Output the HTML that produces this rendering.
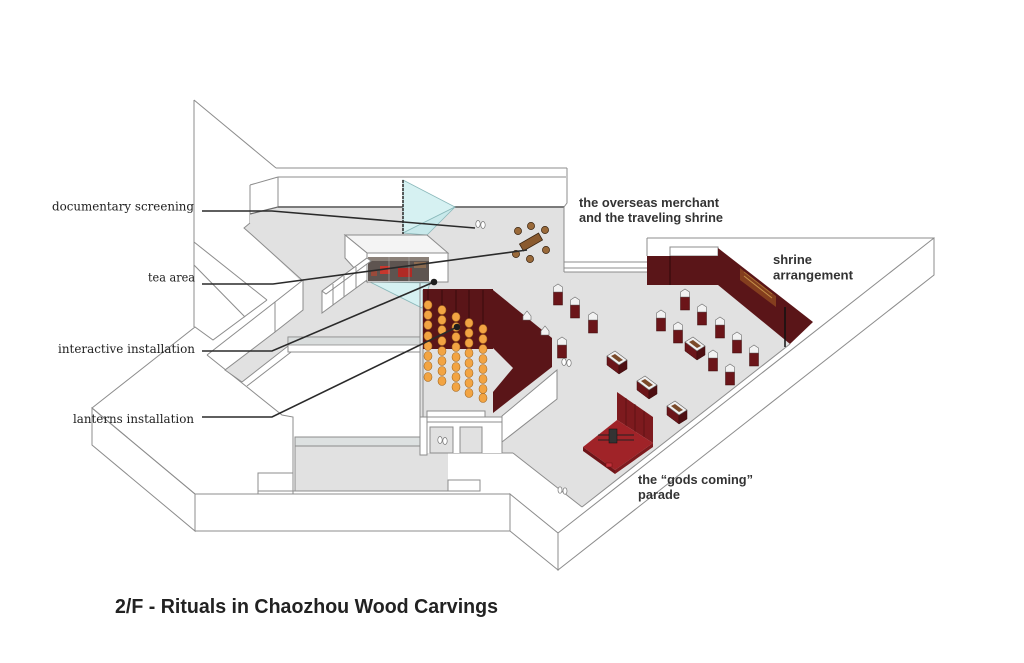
<!DOCTYPE html>
<html><head><meta charset="utf-8"><style>
html,body{margin:0;padding:0;background:#fff;}
svg{display:block;}
.o{fill:none;stroke:#8c8c8c;stroke-width:1;}
.w{fill:#fff;stroke:#8c8c8c;stroke-width:1;}
.g{fill:#e1e1e1;}
.lbl{font-family:"DejaVu Serif","Liberation Serif",serif;font-size:12.5px;fill:#1e1e1e;}
.sl{font-family:"Liberation Sans",sans-serif;font-weight:bold;font-size:13px;fill:#333;}
.ld{fill:none;stroke:#2a2a2a;stroke-width:1.6;}
.red{fill:#5a1518;}
.lan{fill:#f2a443;stroke:#a86a20;stroke-width:0.6;}
.cs{fill:#6b1519;stroke:#3a0a0a;stroke-width:0.5;}
.gl{fill:#f2f2f2;stroke:#6a6a6a;stroke-width:0.6;}
</style></head><body>
<svg width="1024" height="663" viewBox="0 0 1024 663" xmlns="http://www.w3.org/2000/svg">
<rect width="1024" height="663" fill="#fff"/>

<!-- outer slab faces -->
<polygon class="w" points="558,533 934,238 934,275 558,570"/>
<polygon class="w" points="510,494 558,533 558,570 510,531"/>
<rect class="w" x="195" y="494" width="315" height="37"/>
<polygon class="w" points="92,408 195,494 195,531 92,445"/>

<!-- left block lines -->
<polyline class="o" points="195,494 92,408 195,327 213,340 267,300"/>
<line class="o" x1="194" y1="242" x2="267" y2="300"/>
<line class="o" x1="194" y1="265" x2="245" y2="317"/>
<line class="o" x1="194" y1="100" x2="194" y2="327"/>
<line class="o" x1="194" y1="100" x2="276" y2="168"/>
<polyline class="o" points="207,355 282,415 293,417 293,494"/>
<polyline class="o" points="258,494 258,473 293,473"/>

<!-- top back wall -->
<line class="o" x1="276" y1="168" x2="567" y2="168"/>
<line class="o" x1="278" y1="177" x2="566" y2="177"/>
<polyline class="o" points="567,168 567,203 564,207"/>
<line class="o" x1="250" y1="185" x2="278" y2="177"/>
<line class="o" x1="250" y1="185" x2="250" y2="223"/>
<line class="o" x1="278" y1="177" x2="278" y2="207"/>

<!-- main floor -->
<polygon class="g" points="250,214 278,207 564,207 564,272 647,272 647,285 718,285 790,344 582,507 513,453 420,453 420,337 303,337 303,283 252,235 244,228 250,223"/>
<polyline class="o" points="250,223 244,228 252,235 303,281"/>
<line x1="278" y1="207" x2="564" y2="207" stroke="#6a6a6a" stroke-width="1.8"/>
<line x1="250" y1="214" x2="278" y2="207" stroke="#6a6a6a" stroke-width="1.2"/>
<line class="o" x1="564" y1="207" x2="564" y2="272"/>
<!-- ramp -->
<polygon class="g" points="225,370 275,332 303,310 303,337 288,345 242,382"/>
<polyline class="o" points="242,382 225,370 275,332"/>
<line class="o" x1="242" y1="382" x2="288" y2="346"/>
<line class="o" x1="247" y1="386" x2="295" y2="349"/>
<line class="o" x1="207" y1="355" x2="275" y2="302"/>
<polygon class="w" points="275,302 303,280 303,310 275,332"/>

<!-- floor edges -->
<line class="o" x1="582" y1="507" x2="790" y2="344"/>
<line class="o" x1="513" y1="453" x2="582" y2="507"/>
<line class="o" x1="448" y1="453" x2="513" y2="453"/>

<!-- lower gray area -->
<rect class="g" x="295" y="446" width="153" height="45"/>
<rect x="295" y="437" width="125" height="9" fill="#dde1e1" stroke="#8c8c8c" stroke-width="1"/>
<rect class="w" x="288" y="337" width="132" height="15"/>
<rect x="288" y="337" width="132" height="8" fill="#d9dddd" stroke="#8c8c8c" stroke-width="0.8"/>
<rect class="w" x="258" y="473" width="35" height="18"/>
<rect class="w" x="448" y="480" width="32" height="11"/>
<line class="o" x1="293" y1="491" x2="480" y2="491"/>
<line class="o" x1="295" y1="437" x2="295" y2="491"/>

<!-- lower back wall segment -->
<line class="o" x1="564" y1="262" x2="647" y2="262"/>
<line class="o" x1="564" y1="268" x2="647" y2="268"/>
<line class="o" x1="564" y1="272" x2="647" y2="272"/>

<!-- shrine -->
<line class="o" x1="647" y1="238" x2="934" y2="238"/>
<line class="o" x1="647" y1="238" x2="647" y2="256"/>
<rect class="w" x="670" y="247" width="48" height="9"/>
<rect class="red" x="647" y="256" width="71" height="29"/>
<line x1="670" y1="256" x2="670" y2="285" stroke="#2e0808" stroke-width="1"/>
<polygon class="red" points="718,248 813,322 790,344 718,285"/>
<polygon points="740,268 776,296 776,307 740,280" fill="#8c4520" opacity="0.85"/>
<line x1="744" y1="276" x2="772" y2="298" stroke="#c49048" stroke-width="1"/>
<line x1="744" y1="272" x2="772" y2="294" stroke="#b07a38" stroke-width="0.7"/>
<line x1="785" y1="307" x2="785" y2="347" stroke="#111" stroke-width="1.5"/>

<!-- glass -->
<polygon points="403,180 455,207 403,233" fill="#d6f1f2" stroke="#8ab8ba" stroke-width="0.8"/>
<polygon points="403,233 427,235 455,207" fill="#c8e9eb" stroke="#8ab8ba" stroke-width="0.8"/>
<line x1="403" y1="180" x2="403" y2="234" stroke="#333" stroke-width="1.6" stroke-dasharray="3,1"/>
<polygon points="370,282 422,308 430,283" fill="#d6f1f2" stroke="#8ab8ba" stroke-width="0.8"/>

<!-- tea box -->
<polygon class="w" points="345,235 427,235 448,253 367,253" style="fill:#f4f4f4"/>
<polygon class="w" points="345,235 367,253 367,282 345,258"/>
<rect class="w" x="367" y="253" width="81" height="29"/>
<rect x="368" y="257" width="61" height="24" fill="#5e5450"/>
<rect x="368" y="257" width="61" height="4" fill="#8a8078"/>
<rect x="380" y="266" width="10" height="8" fill="#c8372d"/>
<rect x="398" y="268" width="14" height="9" fill="#b02a25"/>
<rect x="414" y="262" width="12" height="6" fill="#8a6a50"/>
<rect x="371" y="270" width="6" height="6" fill="#9a4a3a"/>
<line x1="389" y1="257" x2="389" y2="281" stroke="#aaa" stroke-width="0.6"/>
<line x1="409" y1="257" x2="409" y2="281" stroke="#aaa" stroke-width="0.6"/>
<!-- benches -->
<polygon class="w" points="322,291 367,258 367,280 322,313"/>
<polygon class="w" points="322,291 367,258 371,261 326,294"/>
<line class="o" x1="333" y1="284" x2="333" y2="305"/>
<line class="o" x1="344" y1="276" x2="344" y2="297"/>
<line class="o" x1="356" y1="267" x2="356" y2="288"/>

<!-- lantern room -->
<line class="o" x1="420" y1="283" x2="420" y2="455"/>
<line class="o" x1="423" y1="290" x2="423" y2="417"/>
<rect class="red" x="423" y="289" width="70" height="60"/>
<polygon class="red" points="493,290 552,338 552,367 493,413"/>
<polygon class="g" points="493,348 513,368 493,392"/>
<g stroke="#2a0606" stroke-width="0.7">
<line x1="428" y1="290" x2="428" y2="303"/><line x1="442" y1="290" x2="442" y2="310"/>
<line x1="456" y1="290" x2="456" y2="318"/><line x1="469" y1="290" x2="469" y2="323"/>
<line x1="483" y1="290" x2="483" y2="328"/>
</g>
<g class="lan">
<ellipse cx="428" cy="305" rx="4" ry="4.5"/><ellipse cx="428" cy="315" rx="4" ry="4.5"/><ellipse cx="428" cy="325" rx="4" ry="4.5"/><ellipse cx="428" cy="336" rx="4" ry="4.5"/><ellipse cx="428" cy="346" rx="4" ry="4.5"/><ellipse cx="428" cy="356" rx="4" ry="4.5"/><ellipse cx="428" cy="366" rx="4" ry="4.5"/><ellipse cx="428" cy="377" rx="4" ry="4.5"/>
<ellipse cx="442" cy="310" rx="4" ry="4.5"/><ellipse cx="442" cy="320" rx="4" ry="4.5"/><ellipse cx="442" cy="330" rx="4" ry="4.5"/><ellipse cx="442" cy="341" rx="4" ry="4.5"/><ellipse cx="442" cy="351" rx="4" ry="4.5"/><ellipse cx="442" cy="361" rx="4" ry="4.5"/><ellipse cx="442" cy="371" rx="4" ry="4.5"/><ellipse cx="442" cy="381" rx="4" ry="4.5"/>
<ellipse cx="456" cy="317" rx="4" ry="4.5"/><ellipse cx="456" cy="327" rx="4" ry="4.5"/><ellipse cx="456" cy="337" rx="4" ry="4.5"/><ellipse cx="456" cy="347" rx="4" ry="4.5"/><ellipse cx="456" cy="357" rx="4" ry="4.5"/><ellipse cx="456" cy="367" rx="4" ry="4.5"/><ellipse cx="456" cy="377" rx="4" ry="4.5"/><ellipse cx="456" cy="387" rx="4" ry="4.5"/>
<ellipse cx="469" cy="323" rx="4" ry="4.5"/><ellipse cx="469" cy="333" rx="4" ry="4.5"/><ellipse cx="469" cy="343" rx="4" ry="4.5"/><ellipse cx="469" cy="353" rx="4" ry="4.5"/><ellipse cx="469" cy="363" rx="4" ry="4.5"/><ellipse cx="469" cy="373" rx="4" ry="4.5"/><ellipse cx="469" cy="383" rx="4" ry="4.5"/><ellipse cx="469" cy="393" rx="4" ry="4.5"/>
<ellipse cx="483" cy="329" rx="4" ry="4.5"/><ellipse cx="483" cy="339" rx="4" ry="4.5"/><ellipse cx="483" cy="349" rx="4" ry="4.5"/><ellipse cx="483" cy="359" rx="4" ry="4.5"/><ellipse cx="483" cy="369" rx="4" ry="4.5"/><ellipse cx="483" cy="379" rx="4" ry="4.5"/><ellipse cx="483" cy="389" rx="4" ry="4.5"/><ellipse cx="483" cy="398" rx="4" ry="4.5"/>
</g>
<rect class="w" x="427" y="411" width="58" height="6"/>
<!-- small glass tops on red wall -->
<polygon class="gl" points="523,316 527,311 531,316 531,320 523,320"/>
<polygon class="gl" points="541,331 545,326 549,331 549,335 541,335"/>
<!-- rooms -->
<rect x="420" y="417" width="82" height="36" fill="#fff"/>
<line class="o" x1="420" y1="417" x2="502" y2="417"/>
<line class="o" x1="420" y1="422" x2="502" y2="422"/>
<rect class="w" x="420" y="417" width="7" height="38"/>
<rect x="430" y="427" width="23" height="26" fill="#e1e1e1" stroke="#8c8c8c" stroke-width="1"/>
<rect x="460" y="427" width="22" height="26" fill="#e1e1e1" stroke="#8c8c8c" stroke-width="1"/>
<polygon class="w" points="502,416 557,370 557,399 502,442"/>
<line class="o" x1="502" y1="442" x2="502" y2="453"/>

<!-- small display cases -->
<g>
<g transform="translate(558,297)"><rect class="cs" x="-4.5" y="-5" width="9" height="13"/><polygon class="gl" points="-4.5,-5 -4.5,-10 0,-13 4.5,-10 4.5,-5"/></g>
<g transform="translate(575,310)"><rect class="cs" x="-4.5" y="-5" width="9" height="13"/><polygon class="gl" points="-4.5,-5 -4.5,-10 0,-13 4.5,-10 4.5,-5"/></g>
<g transform="translate(593,325)"><rect class="cs" x="-4.5" y="-5" width="9" height="13"/><polygon class="gl" points="-4.5,-5 -4.5,-10 0,-13 4.5,-10 4.5,-5"/></g>
<g transform="translate(562,350)"><rect class="cs" x="-4.5" y="-5" width="9" height="13"/><polygon class="gl" points="-4.5,-5 -4.5,-10 0,-13 4.5,-10 4.5,-5"/></g>
<g transform="translate(685,302)"><rect class="cs" x="-4.5" y="-5" width="9" height="13"/><polygon class="gl" points="-4.5,-5 -4.5,-10 0,-13 4.5,-10 4.5,-5"/></g>
<g transform="translate(702,317)"><rect class="cs" x="-4.5" y="-5" width="9" height="13"/><polygon class="gl" points="-4.5,-5 -4.5,-10 0,-13 4.5,-10 4.5,-5"/></g>
<g transform="translate(720,330)"><rect class="cs" x="-4.5" y="-5" width="9" height="13"/><polygon class="gl" points="-4.5,-5 -4.5,-10 0,-13 4.5,-10 4.5,-5"/></g>
<g transform="translate(737,345)"><rect class="cs" x="-4.5" y="-5" width="9" height="13"/><polygon class="gl" points="-4.5,-5 -4.5,-10 0,-13 4.5,-10 4.5,-5"/></g>
<g transform="translate(754,358)"><rect class="cs" x="-4.5" y="-5" width="9" height="13"/><polygon class="gl" points="-4.5,-5 -4.5,-10 0,-13 4.5,-10 4.5,-5"/></g>
<g transform="translate(661,323)"><rect class="cs" x="-4.5" y="-5" width="9" height="13"/><polygon class="gl" points="-4.5,-5 -4.5,-10 0,-13 4.5,-10 4.5,-5"/></g>
<g transform="translate(678,335)"><rect class="cs" x="-4.5" y="-5" width="9" height="13"/><polygon class="gl" points="-4.5,-5 -4.5,-10 0,-13 4.5,-10 4.5,-5"/></g>
<g transform="translate(713,363)"><rect class="cs" x="-4.5" y="-5" width="9" height="13"/><polygon class="gl" points="-4.5,-5 -4.5,-10 0,-13 4.5,-10 4.5,-5"/></g>
<g transform="translate(730,377)"><rect class="cs" x="-4.5" y="-5" width="9" height="13"/><polygon class="gl" points="-4.5,-5 -4.5,-10 0,-13 4.5,-10 4.5,-5"/></g>
</g>

<!-- wide cases -->
<g>
<g transform="translate(617,362)"><polygon points="-10,-6 2,3 2,12 -10,3" fill="#6b1519" stroke="#3a0a0a" stroke-width="0.5"/><polygon points="2,3 10,-2 10,7 2,12" fill="#4e0f12" stroke="#3a0a0a" stroke-width="0.5"/><polygon points="-10,-6 -2,-11 10,-2 2,3" fill="#f0f0f0" stroke="#666" stroke-width="0.6"/><polygon points="-6,-6 -2,-8 6,-2 2,0" fill="#7a4a2a"/></g>
<g transform="translate(647,387)"><polygon points="-10,-6 2,3 2,12 -10,3" fill="#6b1519" stroke="#3a0a0a" stroke-width="0.5"/><polygon points="2,3 10,-2 10,7 2,12" fill="#4e0f12" stroke="#3a0a0a" stroke-width="0.5"/><polygon points="-10,-6 -2,-11 10,-2 2,3" fill="#f0f0f0" stroke="#666" stroke-width="0.6"/><polygon points="-6,-6 -2,-8 6,-2 2,0" fill="#7a4a2a"/></g>
<g transform="translate(677,412)"><polygon points="-10,-6 2,3 2,12 -10,3" fill="#6b1519" stroke="#3a0a0a" stroke-width="0.5"/><polygon points="2,3 10,-2 10,7 2,12" fill="#4e0f12" stroke="#3a0a0a" stroke-width="0.5"/><polygon points="-10,-6 -2,-11 10,-2 2,3" fill="#f0f0f0" stroke="#666" stroke-width="0.6"/><polygon points="-6,-6 -2,-8 6,-2 2,0" fill="#7a4a2a"/></g>
<g transform="translate(695,348)"><polygon points="-10,-6 2,3 2,12 -10,3" fill="#6b1519" stroke="#3a0a0a" stroke-width="0.5"/><polygon points="2,3 10,-2 10,7 2,12" fill="#4e0f12" stroke="#3a0a0a" stroke-width="0.5"/><polygon points="-10,-6 -2,-11 10,-2 2,3" fill="#f0f0f0" stroke="#666" stroke-width="0.6"/><polygon points="-6,-6 -2,-8 6,-2 2,0" fill="#7a4a2a"/></g>
</g>

<!-- parade platform -->
<polygon points="617,392 653,417 653,443 617,420" fill="#7d1a1e"/>
<g stroke="#4a0c0e" stroke-width="0.6"><line x1="626" y1="398" x2="626" y2="426"/><line x1="635" y1="404" x2="635" y2="432"/><line x1="644" y1="411" x2="644" y2="437"/></g>
<polygon points="583,447 617,420 653,443 615,470" fill="#a02328"/>
<polygon points="583,447 615,470 615,474 583,451" fill="#6e1418"/>
<polygon points="615,470 653,443 653,447 615,474" fill="#7d1a1e"/>
<line x1="598" y1="435" x2="634" y2="435" stroke="#222" stroke-width="1"/>
<line x1="598" y1="440" x2="634" y2="440" stroke="#222" stroke-width="1"/>
<rect x="609" y="429" width="8" height="14" fill="#333" stroke="#111" stroke-width="0.5"/>
<rect x="606" y="463" width="6" height="4" fill="#c0303a" stroke="#6a1010" stroke-width="0.5"/>

<!-- tea table -->
<g transform="translate(531,242) rotate(-30)"><rect x="-11" y="-4" width="22" height="8" fill="#8a5a2e" stroke="#3a2410" stroke-width="0.8"/></g>
<g fill="#9a6a3a" stroke="#3a2410" stroke-width="0.7">
<circle cx="518" cy="231" r="3.6"/><circle cx="531" cy="226" r="3.6"/><circle cx="545" cy="230" r="3.6"/>
<circle cx="516" cy="254" r="3.6"/><circle cx="530" cy="259" r="3.6"/><circle cx="546" cy="250" r="3.6"/>
</g>

<!-- people icons -->
<g fill="#fff" stroke="#777" stroke-width="0.7">
<ellipse cx="478" cy="224" rx="2.2" ry="3.5"/><ellipse cx="483" cy="225" rx="2.2" ry="3.5"/>
<ellipse cx="440" cy="440" rx="2.2" ry="3.5"/><ellipse cx="445" cy="441" rx="2.2" ry="3.5"/>
<ellipse cx="564" cy="362" rx="2.2" ry="3.5"/><ellipse cx="569" cy="363" rx="2.2" ry="3.5"/>
<ellipse cx="560" cy="490" rx="2" ry="3.2"/><ellipse cx="565" cy="491" rx="2" ry="3.2"/>
</g>

<!-- leader lines -->
<polyline class="ld" points="202,211 272,211 475,228"/>
<polyline class="ld" points="202,284 273,284 527,250"/>
<polyline class="ld" points="202,351 272,351 434,282"/>
<polyline class="ld" points="202,417 272,417 457,327"/>
<circle cx="434" cy="282" r="3.3" fill="#1e1e1e"/>
<circle cx="457" cy="327" r="3.3" fill="#1e1e1e"/>

<!-- left labels -->
<text class="lbl" x="52" y="210.5" textLength="142" lengthAdjust="spacingAndGlyphs">documentary screening</text>
<text class="lbl" x="148" y="281.5" textLength="47" lengthAdjust="spacingAndGlyphs">tea area</text>
<text class="lbl" x="58" y="353" textLength="137" lengthAdjust="spacingAndGlyphs">interactive installation</text>
<text class="lbl" x="73" y="423" textLength="121" lengthAdjust="spacingAndGlyphs">lanterns installation</text>

<!-- right labels -->
<text class="sl" x="579" y="207" textLength="140" lengthAdjust="spacingAndGlyphs">the overseas merchant</text>
<text class="sl" x="579" y="222" textLength="144" lengthAdjust="spacingAndGlyphs">and the traveling shrine</text>
<text class="sl" x="773" y="264" textLength="39" lengthAdjust="spacingAndGlyphs">shrine</text>
<text class="sl" x="773" y="279.5" textLength="80" lengthAdjust="spacingAndGlyphs">arrangement</text>
<text class="sl" x="638" y="484" textLength="115" lengthAdjust="spacingAndGlyphs">the “gods coming”</text>
<text class="sl" x="638" y="499" textLength="42" lengthAdjust="spacingAndGlyphs">parade</text>

<!-- title -->
<text x="115" y="613" font-family="Liberation Sans, sans-serif" font-weight="bold" font-size="20" fill="#222" textLength="383" lengthAdjust="spacingAndGlyphs">2/F - Rituals in Chaozhou Wood Carvings</text>
</svg>
</body></html>
